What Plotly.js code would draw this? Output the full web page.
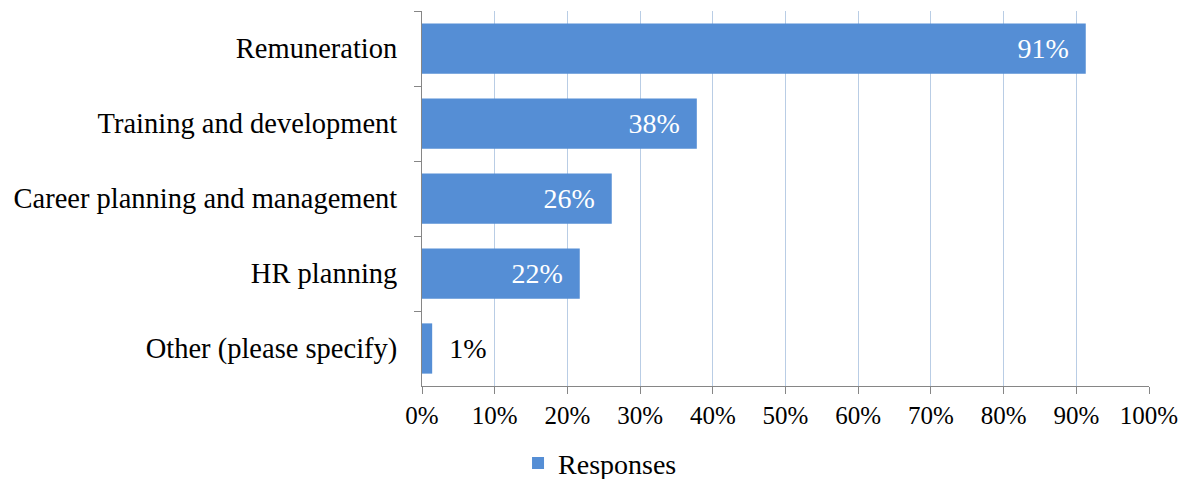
<!DOCTYPE html>
<html>
<head>
<meta charset="utf-8">
<script src="https://cdn.plot.ly/plotly-3.0.1.min.js"></script>
<style>
html,body{margin:0;padding:0;background:#fff;}
#chart{width:1187px;height:479px;}
</style>
</head>
<body>
<div id="chart"></div>
<script>
const categories = ["Remuneration", "Training and development", "Career planning and management", "HR planning", "Other (please specify)"];
const responses = [0.913, 0.378, 0.261, 0.217, 0.014];
const seriesName = "Responses";
const xTickValues = [0, 0.1, 0.2, 0.3, 0.4, 0.5, 0.6, 0.7, 0.8, 0.9, 1.0];

const FONT = "'Liberation Serif', 'Times New Roman', serif";
const BAR = "#558ED5";
const AXIS = "#868686";
const GRID = "#B9CDE5";

const textTemplates = responses.map(v => v >= 0.1 ? "%{x:.0%}\u00a0\u00a0" : "\u00a0\u00a0%{x:.0%}");
const textPositions = responses.map(v => v >= 0.1 ? "inside" : "outside");

const trace = {
  type: "bar",
  orientation: "h",
  name: seriesName,
  y: categories,
  x: responses,
  marker: {color: BAR},
  texttemplate: textTemplates,
  textposition: textPositions,
  insidetextanchor: "end",
  insidetextfont: {family: FONT, size: 28, color: "#ffffff"},
  outsidetextfont: {family: FONT, size: 28, color: "#000000"},
  cliponaxis: false,
  hoverinfo: "skip",
  showlegend: true
};

const layout = {
  width: 1187,
  height: 479,
  margin: {l: 422, r: 38, t: 11, b: 93},
  paper_bgcolor: "#ffffff",
  plot_bgcolor: "#ffffff",
  font: {family: FONT, color: "#000000"},
  bargap: 0.33,
  showlegend: true,
  xaxis: {
    range: [0, 1],
    tickvals: xTickValues,
    tickformat: ".0%",
    showgrid: true,
    gridcolor: GRID,
    gridwidth: 1,
    zeroline: false,
    showline: true,
    linecolor: AXIS,
    linewidth: 1,
    ticks: "outside",
    ticklen: 7,
    tickcolor: AXIS,
    tickfont: {family: FONT, size: 25, color: "#000000"},
    fixedrange: true
  },
  yaxis: {
    type: "category",
    autorange: "reversed",
    showgrid: false,
    zeroline: false,
    showline: true,
    linecolor: AXIS,
    linewidth: 1,
    ticks: "outside",
    ticklen: 7,
    tickcolor: AXIS,
    tickson: "boundaries",
    ticklabelstandoff: 18,
    tickfont: {family: FONT, size: 28.5, color: "#000000"},
    fixedrange: true
  },
  legend: {
    orientation: "h",
    xref: "container",
    yref: "container",
    x: 0.5055,
    xanchor: "center",
    y: 0.033,
    yanchor: "middle",
    font: {family: FONT, size: 28, color: "#000000"},
    bgcolor: "rgba(0,0,0,0)"
  }
};

Plotly.newPlot("chart", [trace], layout, {displayModeBar: false, staticPlot: true});
</script>
</body>
</html>
